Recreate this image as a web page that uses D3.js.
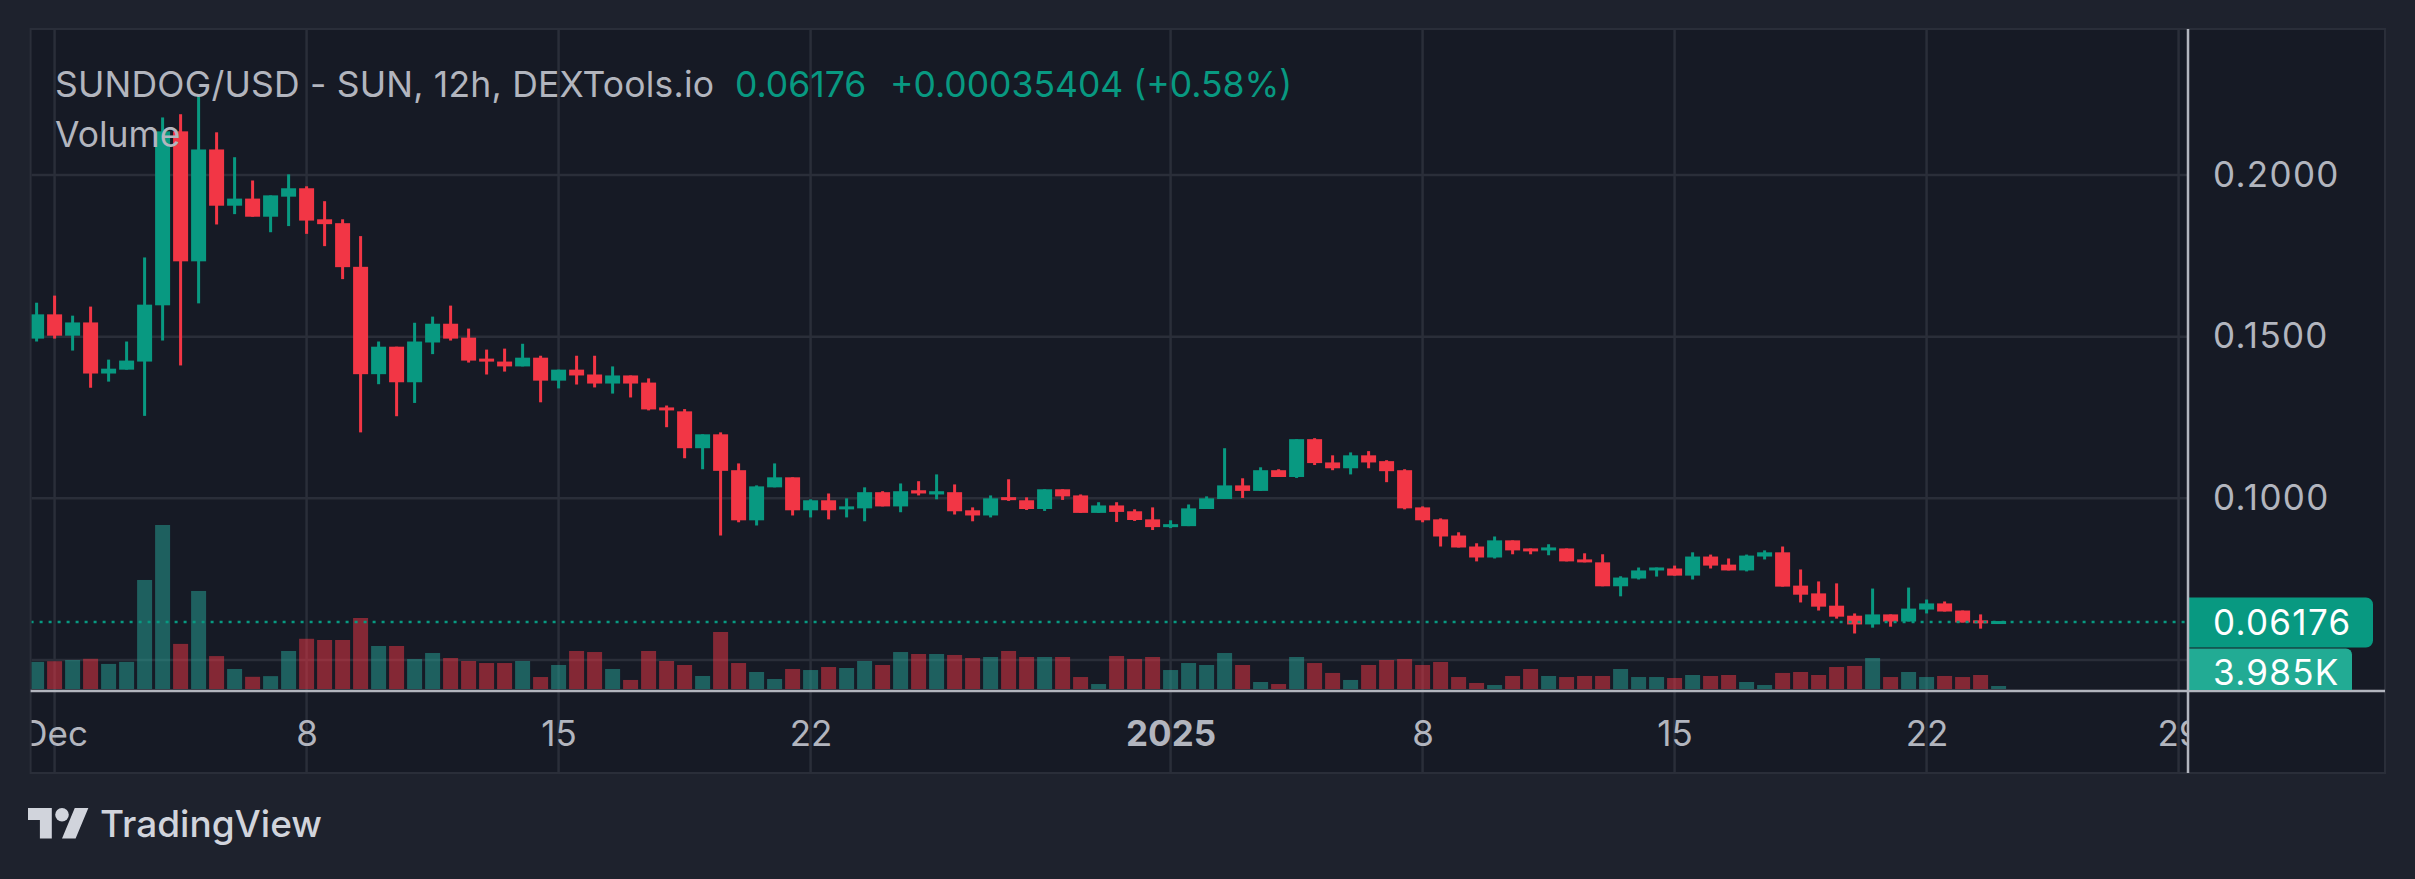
<!DOCTYPE html>
<html>
<head>
<meta charset="utf-8">
<script src="https://cdn.jsdelivr.net/npm/d3@7"></script>
<style>
  html, body { margin: 0; padding: 0; background: #1e222d; }
  svg { display: block; }
  text { font-family: Inter, "Noto Sans", sans-serif; }
</style>
</head>
<body>
<svg id="chart" width="2415" height="879"></svg>
<script>
// ---------------- DATA ----------------
const firstCandle = new Date(Date.UTC(2024, 10, 30, 12));   // Nov 30, 12:00 (12h candles)
const candleCount = 110;

const open = [0.1494,0.1569,0.1503,0.1544,0.1386,0.1398,0.1423,0.1597,0.2135,0.1733,
  0.2079,0.1905,0.1927,0.1871,0.1933,0.1959,0.1863,0.1851,0.1716,0.1384,
  0.1469,0.1359,0.1482,0.1540,0.1497,0.1432,0.1423,0.1408,0.1435,0.1364,
  0.1398,0.1383,0.1355,0.1380,0.1358,0.1281,0.1269,0.1155,0.1198,0.1087,
  0.0932,0.1034,0.1065,0.0963,0.0994,0.0966,0.0969,0.1019,0.0975,0.1025,
  0.1012,0.1019,0.0963,0.0947,0.1003,0.0994,0.0967,0.1028,0.1009,0.0955,
  0.0978,0.0960,0.0935,0.0911,0.0914,0.0967,0.0998,0.1040,0.1023,0.1087,
  0.1066,0.1183,0.1111,0.1093,0.1133,0.1115,0.1087,0.0972,0.0935,0.0885,
  0.0851,0.0817,0.0870,0.0845,0.0839,0.0845,0.0811,0.0802,0.0728,0.0752,
  0.0777,0.0783,0.0761,0.0820,0.0795,0.0777,0.0820,0.0833,0.0730,0.0706,
  0.0668,0.0637,0.0610,0.0641,0.0619,0.0656,0.0675,0.0653,0.0622,0.06141];
const high = [0.1605,0.1627,0.1565,0.1593,0.1429,0.1485,0.1745,0.2178,0.2188,0.2246,
  0.2132,0.2055,0.1983,0.1937,0.2002,0.1965,0.1919,0.1863,0.1811,0.1485,
  0.1469,0.1543,0.1562,0.1596,0.1525,0.1460,0.1463,0.1478,0.1441,0.1398,
  0.1441,0.1441,0.1408,0.1380,0.1371,0.1287,0.1276,0.1198,0.1204,0.1108,
  0.1040,0.1108,0.1065,0.0997,0.1015,0.1000,0.1034,0.1022,0.1046,0.1053,
  0.1074,0.1043,0.0972,0.1009,0.1059,0.1003,0.1028,0.1028,0.1012,0.0988,
  0.0988,0.0966,0.0972,0.0932,0.0981,0.1006,0.1155,0.1062,0.1096,0.1090,
  0.1183,0.1186,0.1133,0.1142,0.1146,0.1118,0.1090,0.0975,0.0938,0.0895,
  0.0861,0.0882,0.0870,0.0845,0.0858,0.0845,0.0830,0.0827,0.0759,0.0786,
  0.0786,0.0792,0.0833,0.0826,0.0814,0.0826,0.0839,0.0851,0.0780,0.0743,
  0.0737,0.0644,0.0721,0.0641,0.0724,0.0687,0.0681,0.0653,0.0641,0.06176];
const low = [0.1485,0.1494,0.1457,0.1342,0.1361,0.1398,0.1255,0.1488,0.1411,0.1603,
  0.1847,0.1879,0.1871,0.1823,0.1842,0.1818,0.1780,0.1678,0.1204,0.1353,
  0.1254,0.1295,0.1446,0.1488,0.1420,0.1383,0.1392,0.1408,0.1297,0.1340,
  0.1352,0.1343,0.1324,0.1312,0.1272,0.1220,0.1124,0.1090,0.0885,0.0926,
  0.0916,0.1034,0.0947,0.0941,0.0935,0.0941,0.0929,0.0975,0.0957,0.1009,
  0.0997,0.0950,0.0929,0.0941,0.0992,0.0964,0.0961,0.0995,0.0955,0.0955,
  0.0927,0.0930,0.0902,0.0908,0.0914,0.0967,0.0998,0.1001,0.1023,0.1066,
  0.1063,0.1103,0.1087,0.1074,0.1093,0.1050,0.0966,0.0926,0.0851,0.0848,
  0.0805,0.0814,0.0827,0.0827,0.0824,0.0805,0.0802,0.0728,0.0697,0.0749,
  0.0758,0.0761,0.0749,0.0783,0.0777,0.0774,0.0811,0.0727,0.0678,0.0653,
  0.0628,0.0582,0.0600,0.0603,0.0619,0.0644,0.0650,0.0616,0.0597,0.06141];
const close = [0.1569,0.1503,0.1544,0.1386,0.1401,0.1426,0.1599,0.2135,0.1733,0.2079,
  0.1905,0.1927,0.1871,0.1937,0.1959,0.1859,0.1848,0.1715,0.1384,0.1469,
  0.1359,0.1485,0.1540,0.1494,0.1426,0.1423,0.1408,0.1435,0.1364,0.1398,
  0.1380,0.1355,0.1380,0.1355,0.1275,0.1272,0.1155,0.1198,0.1085,0.0932,
  0.1037,0.1065,0.0963,0.0994,0.0963,0.0975,0.1019,0.0975,0.1022,0.1015,
  0.1022,0.0960,0.0947,0.1000,0.0995,0.0967,0.1028,0.1006,0.0955,0.0978,
  0.0958,0.0933,0.0911,0.0920,0.0969,0.1000,0.1040,0.1023,0.1087,0.1066,
  0.1183,0.1109,0.1093,0.1133,0.1111,0.1084,0.0969,0.0932,0.0882,0.0848,
  0.0817,0.0870,0.0839,0.0836,0.0848,0.0805,0.0802,0.0728,0.0755,0.0777,
  0.0786,0.0761,0.0820,0.0792,0.0777,0.0823,0.0833,0.0727,0.0702,0.0665,
  0.0634,0.0610,0.0641,0.0619,0.0659,0.0675,0.0650,0.0616,0.06141,0.06176];
// volume in thousands
const volume = [36.0,36.9,38.5,40.1,33.3,36.0,144.8,217.8,59.9,130.2,
  43.7,26.6,16.2,17.1,50.5,66.7,65.1,65.1,94.3,57.1,
  57.1,39.8,47.8,41.2,37.2,34.5,34.5,37.2,15.9,31.9,
  50.5,49.1,26.6,12.0,50.5,37.2,31.9,17.3,75.7,34.5,
  22.6,13.3,26.6,25.2,29.2,27.9,37.2,31.9,49.1,46.5,
  46.5,45.2,41.2,42.5,50.5,42.5,42.5,42.5,15.9,6.6,
  43.8,39.8,42.5,25.2,34.5,31.9,47.8,31.9,9.3,6.6,
  42.5,34.5,21.3,12.0,31.9,38.5,39.8,31.9,35.9,15.9,
  8.0,5.3,17.3,26.6,17.3,15.9,17.3,17.3,26.6,15.9,
  15.9,14.6,18.6,17.3,18.6,9.3,5.3,21.3,22.6,18.6,
  29.2,30.6,41.2,15.9,22.6,15.9,17.3,15.9,18.6,3.985];

const priceTicks = [0.10, 0.15, 0.20];
const priceGrid = [0.05, 0.10, 0.15, 0.20];
const timeTicks = [
  new Date(Date.UTC(2024, 11, 1)), new Date(Date.UTC(2024, 11, 8)),
  new Date(Date.UTC(2024, 11, 15)), new Date(Date.UTC(2024, 11, 22)),
  new Date(Date.UTC(2025, 0, 1)), new Date(Date.UTC(2025, 0, 8)),
  new Date(Date.UTC(2025, 0, 15)), new Date(Date.UTC(2025, 0, 22)),
  new Date(Date.UTC(2025, 0, 29))];
const timeLabels = ["Dec", "8", "15", "22", "2025", "8", "15", "22", "29"];

const titleText = "SUNDOG/USD - SUN, 12h, DEXTools.io";
const lastPrice = 0.06176;
const lastPriceText = "0.06176";
const changeText = "+0.00035404 (+0.58%)";
const lastVolumeText = "3.985K";

// ---------------- LAYOUT ----------------
const W = 2415, H = 879;
const panel = {x0: 30.6, y0: 29, x1: 2385, y1: 773};
const plotRight = 2188;     // price-axis separator
const axisY = 691;          // time-axis line
const UP = "#089981", DOWN = "#f23645";
const UPV = "rgba(38,166,154,0.5)", DOWNV = "rgba(242,54,69,0.5)";
const GRID = "#2a2e39", TXT = "#b2b5be";

const times = d3.range(candleCount).map(i => d3.utcHour.offset(firstCandle, 12 * i));
const candles = times.map((t, i) => ({t, o: open[i], h: high[i], l: low[i], c: close[i], v: volume[i]}));

const x = d3.scaleUtc()
  .domain([new Date(Date.UTC(2024, 11, 1)), new Date(Date.UTC(2025, 0, 29))])
  .range([54.6, 2178.6]);
const y = d3.scaleLinear().domain([0.05, 0.20]).range([660, 175]);
const yv = d3.scaleLinear().domain([0, 217.8]).range([689, 525]);

const svg = d3.select("#chart");
svg.append("rect").attr("width", W).attr("height", H).attr("fill", "#1e222d");
svg.append("rect").attr("x", panel.x0).attr("y", panel.y0)
  .attr("width", panel.x1 - panel.x0).attr("height", panel.y1 - panel.y0)
  .attr("fill", "#161a25").attr("stroke", GRID).attr("stroke-width", 2);

const defs = svg.append("defs");
defs.append("clipPath").attr("id", "plotClip").append("rect")
  .attr("x", panel.x0 + 1).attr("y", panel.y0 + 1)
  .attr("width", plotRight - panel.x0 - 1).attr("height", panel.y1 - panel.y0 - 2);

const plot = svg.append("g").attr("clip-path", "url(#plotClip)");

// vertical grid (through time-axis area)
plot.append("g").selectAll("line").data(timeTicks).join("line")
  .attr("x1", d => x(d)).attr("x2", d => x(d))
  .attr("y1", panel.y0).attr("y2", panel.y1)
  .attr("stroke", GRID).attr("stroke-width", 2.5);

// horizontal grid
plot.append("g").selectAll("line").data(priceGrid).join("line")
  .attr("x1", panel.x0).attr("x2", plotRight)
  .attr("y1", d => y(d)).attr("y2", d => y(d))
  .attr("stroke", GRID).attr("stroke-width", 2.5);

// volume bars
const bw = 15;
plot.append("g").selectAll("rect").data(candles).join("rect")
  .attr("x", d => x(d.t) - bw / 2).attr("width", bw)
  .attr("y", d => yv(d.v)).attr("height", d => yv(0) - yv(d.v))
  .attr("fill", d => d.c >= d.o ? UPV : DOWNV);

// candles
const cg = plot.append("g");
cg.selectAll("rect.wick").data(candles).join("rect").attr("class", "wick")
  .attr("x", d => x(d.t) - 1.5).attr("width", 3)
  .attr("y", d => y(d.h)).attr("height", d => Math.max(1, y(d.l) - y(d.h)))
  .attr("fill", d => d.c >= d.o ? UP : DOWN);
cg.selectAll("rect.body").data(candles).join("rect").attr("class", "body")
  .attr("x", d => x(d.t) - bw / 2).attr("width", bw)
  .attr("y", d => Math.min(y(d.o), y(d.c)) - (Math.abs(y(d.o) - y(d.c)) < 3 ? (3 - Math.abs(y(d.o) - y(d.c))) / 2 : 0))
  .attr("height", d => Math.max(3, Math.abs(y(d.o) - y(d.c))))
  .attr("fill", d => d.c >= d.o ? UP : DOWN);

// last price dotted line
plot.append("line")
  .attr("x1", panel.x0).attr("x2", plotRight)
  .attr("y1", y(lastPrice)).attr("y2", y(lastPrice))
  .attr("stroke", UP).attr("stroke-width", 2.5).attr("stroke-dasharray", "3 6");

// time axis labels (clipped to plot)
const xAxis = d3.axisBottom(x).tickValues(timeTicks)
  .tickFormat((d, i) => timeLabels[i]).tickSize(0).tickPadding(0);
const xg = plot.append("g").attr("transform", `translate(0, ${axisY})`).call(xAxis);
xg.select(".domain").remove();
xg.selectAll("text")
  .attr("y", 43).attr("dy", "0.35em")
  .attr("fill", TXT).attr("font-size", 35)
  .attr("font-family", "Inter, sans-serif")
  .attr("font-weight", (d, i) => timeLabels[i] === "2025" ? 700 : 400);

// price axis labels
const yAxis = d3.axisRight(y).tickValues(priceTicks).tickFormat(d3.format(".4f"))
  .tickSize(0).tickPadding(0);
const yg = svg.append("g").attr("transform", `translate(2213, 0)`).call(yAxis);
yg.select(".domain").remove();
yg.selectAll("text").attr("fill", TXT).attr("font-size", 35)
  .attr("font-family", "Inter, sans-serif").attr("letter-spacing", 1.3);

// separators
svg.append("line").attr("x1", panel.x0).attr("x2", panel.x1)
  .attr("y1", axisY).attr("y2", axisY).attr("stroke", "#b2b5be").attr("stroke-width", 2.5);

// price tag + volume tag
svg.append("path")
  .attr("d", `M${plotRight},597.5 H2366 a7,7 0 0 1 7,7 V640.5 a7,7 0 0 1 -7,7 H${plotRight} Z`)
  .attr("fill", UP);
svg.append("text").attr("x", 2213).attr("y", y(lastPrice)).attr("dy", "0.36em")
  .attr("fill", "#ffffff").attr("font-size", 35).attr("letter-spacing", 1.3)
  .text(lastPriceText);
svg.append("path")
  .attr("d", `M${plotRight},648.5 H2346 a6,6 0 0 1 6,6 V690 H${plotRight} Z`)
  .attr("fill", "#22ab94");
svg.append("text").attr("x", 2213).attr("y", 672).attr("dy", "0.36em")
  .attr("fill", "#ffffff").attr("font-size", 35).attr("letter-spacing", 1.3)
  .text(lastVolumeText);

svg.append("line").attr("x1", plotRight).attr("x2", plotRight)
  .attr("y1", panel.y0).attr("y2", panel.y1).attr("stroke", "#b2b5be").attr("stroke-width", 2.5);

// legend
const legend = svg.append("text").attr("x", 55).attr("y", 97)
  .attr("font-size", 35.5).attr("fill", TXT);
legend.append("tspan").attr("letter-spacing", 0.2).text(titleText);
legend.append("tspan").attr("x", 735).attr("fill", UP).text(lastPriceText);
legend.append("tspan").attr("x", 890).attr("fill", UP).text(changeText);
svg.append("text").attr("x", 55).attr("y", 147).attr("font-size", 35.5)
  .attr("fill", TXT).text("Volume");

// TradingView logo
const logo = svg.append("g").attr("transform", "translate(28, 801.2) scale(1.7)").attr("fill", "#d1d4dc");
logo.append("path").attr("d", "M14 22H7V11H0V4h14v18zM28 22h-8l7.5-18h8L28 22z");
logo.append("circle").attr("cx", 20).attr("cy", 8).attr("r", 4);
svg.append("text").attr("x", 100).attr("y", 837).attr("font-size", 37)
  .attr("font-weight", 500).attr("fill", "#d1d4dc").text("TradingView");
</script>
</body>
</html>
